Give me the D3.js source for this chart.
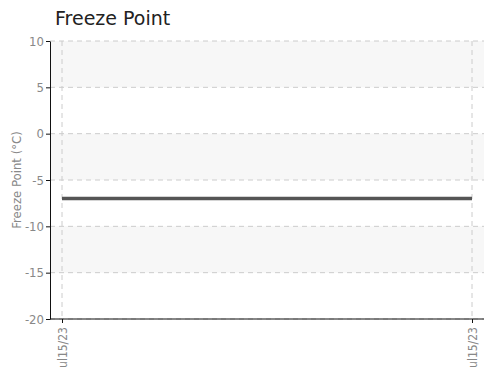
<!DOCTYPE html>
<meta charset="utf-8">
<style>
    body { margin: 0; background: #fff; }
    .axis text { font-family: "DejaVu Sans Condensed", "DejaVu Sans", sans-serif; font-size: 13px; fill: #888; }
    .axis path, .axis line { stroke: #111; }
    .grid line { stroke: #ccc; stroke-dasharray: 5,4; }
</style>
<body>
<div id="chart"></div>
<script src="https://cdn.jsdelivr.net/npm/d3@7"></script>
<script>
    var dates = ["2023-07-15T00:00", "2023-07-15T23:00"];
    var values = [-7, -7];
    var yTicks = [10, 5, 0, -5, -10, -15, -20];

    var width = 492, height = 369;
    var margin = {top: 41, right: 8, bottom: 50, left: 50};
    var pad = 12;

    var parse = d3.timeParse("%Y-%m-%dT%H:%M");
    var data = dates.map(function (d, i) { return {date: parse(d), value: values[i]}; });

    var svg = d3.select("#chart").append("svg")
        .attr("width", width)
        .attr("height", height);

    var x = d3.scaleTime()
        .domain(d3.extent(data, function (d) { return d.date; }))
        .range([margin.left + pad, width - margin.right - pad]);

    var y = d3.scaleLinear()
        .domain([-20, 10])
        .range([height - margin.bottom, margin.top]);

    // alternating bands
    var bands = [[10, 5], [0, -5], [-10, -15]];
    svg.append("g").selectAll("rect")
        .data(bands)
        .enter().append("rect")
        .attr("x", margin.left)
        .attr("width", width - margin.right - margin.left)
        .attr("y", function (d) { return y(d[0]); })
        .attr("height", function (d) { return y(d[1]) - y(d[0]); })
        .attr("fill", "#f7f7f7");

    var grid = svg.append("g").attr("class", "grid");
    grid.selectAll(".h")
        .data(yTicks)
        .enter().append("line")
        .attr("x1", margin.left)
        .attr("x2", width - margin.right)
        .attr("y1", function (d) { return y(d); })
        .attr("y2", function (d) { return y(d); });
    grid.selectAll(".v")
        .data(data)
        .enter().append("line")
        .attr("x1", function (d) { return x(d.date); })
        .attr("x2", function (d) { return x(d.date); })
        .attr("y1", margin.top)
        .attr("y2", height - margin.bottom);

    var line = d3.line()
        .x(function (d) { return x(d.date); })
        .y(function (d) { return y(d.value); });

    svg.append("path")
        .datum(data)
        .attr("d", line)
        .attr("fill", "none")
        .attr("stroke", "#555")
        .attr("stroke-width", 3.5);

    svg.append("g")
        .attr("class", "axis")
        .attr("transform", "translate(" + margin.left + ",0)")
        .call(d3.axisLeft(y).tickValues(yTicks)
            .tickFormat(function (d) { return String(d); })
            .tickSize(4).tickSizeOuter(0).tickPadding(2));

    var xAxis = svg.append("g")
        .attr("class", "axis")
        .attr("transform", "translate(0," + (height - margin.bottom) + ")")
        .call(d3.axisBottom(x)
            .tickValues(data.map(function (d) { return d.date; }))
            .tickFormat(d3.timeFormat("%b%d/%y"))
            .tickSize(4).tickSizeOuter(0));
    xAxis.select(".domain").attr("d", "M" + margin.left + ",0H" + (width - margin.right));
    xAxis.selectAll("text")
        .style("font-size", "12px")
        .attr("transform", "rotate(-90)")
        .attr("text-anchor", "end")
        .attr("x", -8)
        .attr("y", 0)
        .attr("dy", "0.35em");

    svg.append("text")
        .attr("transform", "translate(21," + ((margin.top + height - margin.bottom) / 2) + ") rotate(-90)")
        .attr("text-anchor", "middle")
        .style("font-family", "'DejaVu Sans Condensed', 'DejaVu Sans', sans-serif")
        .style("font-size", "13px")
        .style("fill", "#888")
        .text("Freeze Point (°C)");

    svg.append("text")
        .attr("x", 55)
        .attr("y", 25)
        .style("font-family", "'DejaVu Sans', sans-serif")
        .style("font-size", "19px")
        .style("fill", "#222")
        .text("Freeze Point");
</script>
</body>
